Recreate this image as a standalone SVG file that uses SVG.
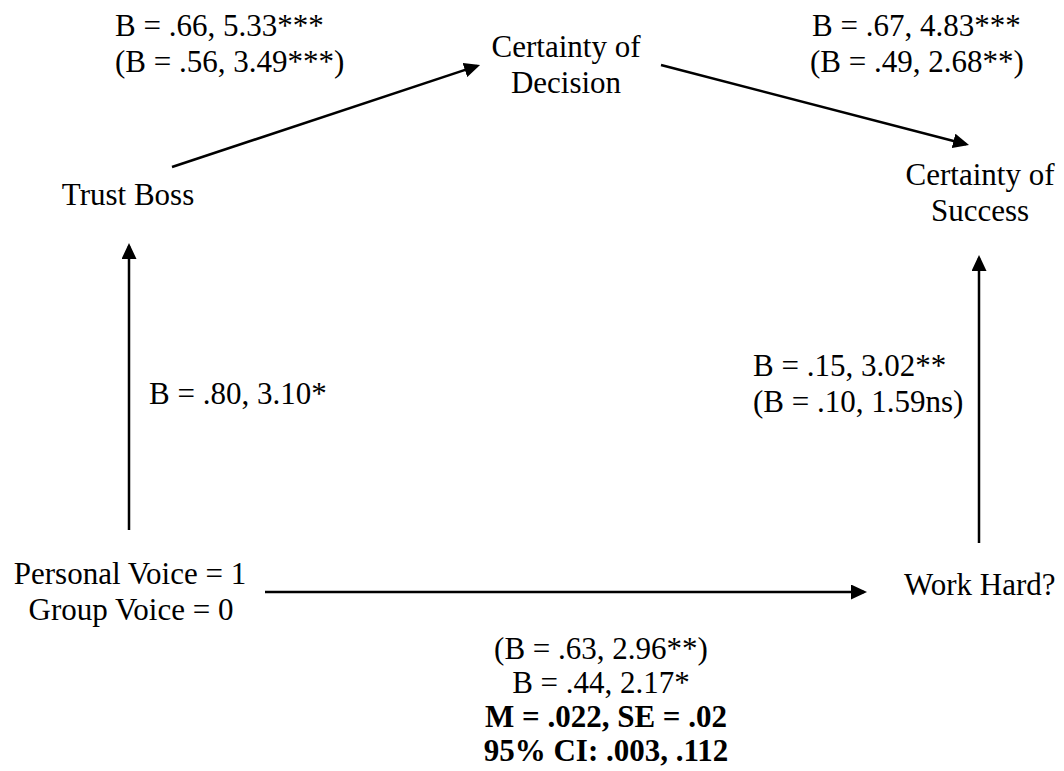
<svg xmlns="http://www.w3.org/2000/svg" width="1064" height="771" viewBox="0 0 1064 771">
<style>
text{font-family:"Liberation Serif","Times New Roman",serif;font-size:31px;fill:#000}
.m{text-anchor:middle}
.b{font-weight:bold}
.c{stroke:#000;stroke-width:2.5;fill:none}
</style>
<defs>
<marker id="ah" viewBox="0 0 16 15" refX="13" refY="7.5" markerWidth="16" markerHeight="15" orient="auto" markerUnits="userSpaceOnUse">
<path d="M0,0 L16,7.5 L0,15 z" fill="#000"/>
</marker>
</defs>
<rect width="1064" height="771" fill="#fff"/>
<g id="connectors">
<line class="c" x1="129" y1="530" x2="129" y2="246" marker-end="url(#ah)"/>
<line class="c" x1="172" y1="167" x2="477.2" y2="65.9" marker-end="url(#ah)"/>
<line class="c" x1="661" y1="65" x2="966.1" y2="144.2" marker-end="url(#ah)"/>
<line class="c" x1="265" y1="592" x2="864" y2="592" marker-end="url(#ah)"/>
<line class="c" x1="979" y1="543" x2="979" y2="258" marker-end="url(#ah)"/>
</g>
<g id="trust-boss"><text class="m" x="128" y="205">Trust Boss</text></g>
<g id="certainty-decision"><text class="m" x="566" y="57">Certainty of</text><text class="m" x="566" y="93">Decision</text></g>
<g id="certainty-success"><text class="m" x="980" y="185">Certainty of</text><text class="m" x="980" y="221">Success</text></g>
<g id="voice"><text class="m" x="130" y="584">Personal Voice = 1</text><text class="m" x="131" y="620">Group Voice = 0</text></g>
<g id="work-hard"><text x="904" y="595">Work Hard?</text></g>
<g id="labels">
<text x="115" y="36">B = .66, 5.33***</text>
<text x="115" y="72">(B = .56, 3.49***)</text>
<text x="812" y="36">B = .67, 4.83***</text>
<text x="810" y="72">(B = .49, 2.68**)</text>
<text x="149" y="404">B = .80, 3.10*</text>
<text x="753" y="376">B = .15, 3.02**</text>
<text x="753" y="412">(B = .10, 1.59ns)</text>
<text class="m" x="601" y="659">(B = .63, 2.96**)</text>
<text class="m" x="601" y="693">B = .44, 2.17*</text>
<text class="m b" x="606" y="727">M = .022, SE = .02</text>
<text class="m b" x="606" y="761">95% CI: .003, .112</text>
</g>
</svg>
